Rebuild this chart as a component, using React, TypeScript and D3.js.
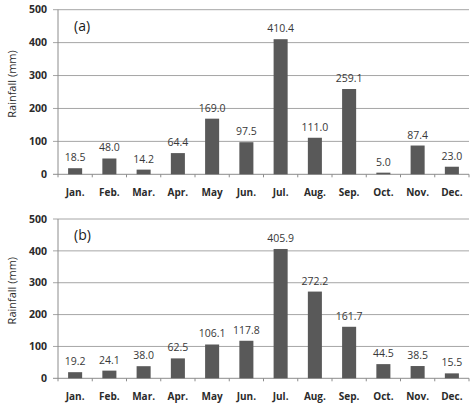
import * as d3 from 'd3';

const months = ['Jan.', 'Feb.', 'Mar.', 'Apr.', 'May', 'Jun.', 'Jul.', 'Aug.', 'Sep.', 'Oct.', 'Nov.', 'Dec.'];
const rainfallA = [18.5, 48.0, 14.2, 64.4, 169.0, 97.5, 410.4, 111.0, 259.1, 5.0, 87.4, 23.0];
const rainfallB = [19.2, 24.1, 38.0, 62.5, 106.1, 117.8, 405.9, 272.2, 161.7, 44.5, 38.5, 15.5];
const yTicks = [0, 100, 200, 300, 400, 500];

const W = 474;
const H = 403;
const left = 58;
const right = 469;
const font = "'Open Sans', sans-serif";

function Panel({ values, label, top, bottom }: { values: number[]; label: string; top: number; bottom: number }) {
  const x = d3.scaleBand<string>().domain(months).range([left, right]).paddingInner(0.59).paddingOuter(0.295);
  const y = d3.scaleLinear().domain([0, 500]).range([bottom, top]);
  const step = x.step();

  return (
    <g>
      {yTicks.map(t => (
        <g key={t}>
          <line x1={left - 5} x2={right} y1={y(t)} y2={y(t)} stroke={t === 0 ? '#8c8c8c' : '#a6a6a6'} strokeWidth={1} />
          <text x={left - 11} y={y(t)} dy="0.35em" textAnchor="end" fontFamily={font} fontSize={10.5} fontWeight="bold" fill="#2b2b2b">{t}</text>
        </g>
      ))}
      <line x1={left} x2={left} y1={top} y2={bottom + 3} stroke="#8c8c8c" />
      {months.map((m, i) => (
        <line key={m} x1={left + (i + 1) * step} x2={left + (i + 1) * step} y1={bottom} y2={bottom + 3} stroke="#8c8c8c" />
      ))}
      {values.map((v, i) => (
        <g key={months[i]}>
          <rect x={x(months[i])} y={y(v)} width={x.bandwidth()} height={bottom - y(v)} fill="#595959" />
          <text x={(x(months[i]) as number) + x.bandwidth() / 2} y={y(v) - 7} textAnchor="middle" fontFamily={font} fontSize={10.5} fill="#383838">{v.toFixed(1)}</text>
          <text x={(x(months[i]) as number) + x.bandwidth() / 2} y={bottom + 22} textAnchor="middle" fontFamily={font} fontSize={10} fontWeight="bold" fill="#2b2b2b">{months[i]}</text>
        </g>
      ))}
      <text x={74} y={top + 21} fontFamily={font} fontSize={14} fill="#1a1a1a">{label}</text>
      <text transform={`translate(16,${(top + bottom) / 2 - 8}) rotate(-90)`} textAnchor="middle" fontFamily={font} fontSize={11} fill="#2b2b2b">Rainfall (mm)</text>
    </g>
  );
}

export default function App() {
  return (
    <svg width={W} height={H} style={{ position: 'absolute', left: 0, top: 0, background: '#fff' }}>
      <Panel values={rainfallA} label="(a)" top={9.7} bottom={174.3} />
      <Panel values={rainfallB} label="(b)" top={219} bottom={378.3} />
    </svg>
  );
}
